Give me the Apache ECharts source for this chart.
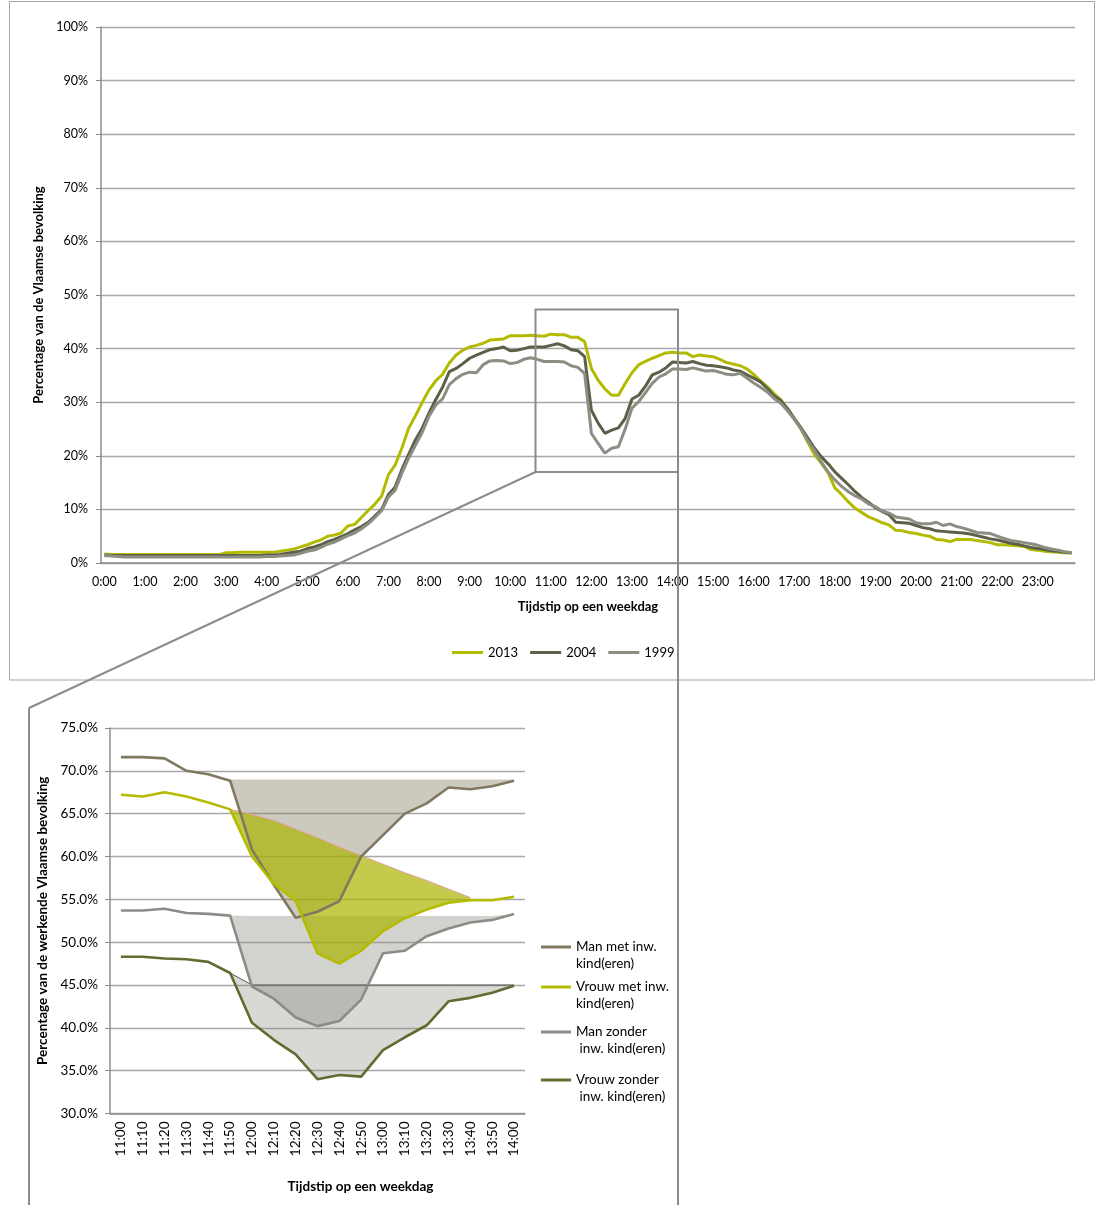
<!DOCTYPE html>
<html><head><meta charset="utf-8">
<script src="https://cdn.jsdelivr.net/npm/echarts/dist/echarts.min.js"></script>
<style>html,body{margin:0;padding:0;background:#fff}#c{width:1096px;height:1205px}</style>
</head><body><div id="c"></div>
<script>
// ---------- Top chart data (10-minute steps, 0:00 .. 23:50) ----------
var timeCategories = [];
for (var h = 0; h < 24; h++) { for (var m = 0; m < 60; m += 10) { timeCategories.push(h + ':' + (m === 0 ? '00' : m)); } }

var y2013 = [1.7,1.6,1.6,1.6,1.6,1.6, 1.6,1.6,1.6,1.6,1.6,1.6, 1.6,1.6,1.6,1.6,1.6,1.6, 1.9,1.9,2.0,2.0,2.0,2.0,
 2.0,2.0,2.2,2.4,2.6,3.0, 3.4,3.9,4.3,5.0,5.2,5.6, 6.9,7.2,8.5,9.8,11.0,12.5, 16.5,18.3,21.5,25.2,27.5,30.0,
 32.3,34.0,35.2,37.3,38.8,39.7, 40.3,40.6,41.0,41.6,41.7,41.8, 42.4,42.4,42.4,42.5,42.4,42.3, 42.7,42.6,42.6,42.1,42.1,41.3,
 36.3,34.1,32.5,31.3,31.3,33.5, 35.5,37.0,37.6,38.2,38.7,39.2, 39.3,39.2,39.2,38.5,38.8,38.6, 38.5,38.0,37.4,37.1,36.8,36.2,
 35.2,34.0,32.9,31.6,30.5,28.8, 26.9,25.0,22.5,20.2,18.6,16.8, 14.0,12.8,11.4,10.2,9.4,8.6, 8.1,7.5,7.1,6.1,6.0,5.7,
 5.5,5.2,5.0,4.4,4.3,4.0, 4.4,4.4,4.4,4.2,4.0,3.8, 3.4,3.4,3.3,3.2,3.1,2.5, 2.4,2.2,2.1,2.0,1.9,1.8];

var y2004 = [1.5,1.4,1.4,1.4,1.4,1.4, 1.4,1.4,1.4,1.4,1.4,1.4, 1.4,1.4,1.4,1.4,1.4,1.4, 1.4,1.4,1.4,1.4,1.4,1.4,
 1.5,1.5,1.6,1.8,2.0,2.2, 2.7,3.0,3.4,4.0,4.4,4.9, 5.5,6.2,6.8,7.6,8.8,10.0, 12.8,14.2,17.5,20.3,23.0,25.2,
 28.0,30.5,32.8,35.7,36.3,37.2, 38.2,38.8,39.3,39.8,40.0,40.3, 39.6,39.7,40.0,40.3,40.3,40.3, 40.6,40.9,40.5,39.8,39.6,38.5,
 28.5,26.1,24.2,24.8,25.2,27.0, 30.6,31.3,33.0,35.1,35.6,36.4, 37.5,37.4,37.3,37.6,37.2,36.9, 36.8,36.6,36.4,36.0,35.8,35.1,
 34.5,33.8,32.6,31.2,30.3,28.8, 27.0,25.2,23.3,21.4,19.8,18.5, 17.0,15.8,14.6,13.3,12.2,11.3, 10.3,9.6,9.0,7.6,7.5,7.4,
 7.0,6.6,6.4,6.0,5.9,5.8, 5.7,5.6,5.4,5.1,4.8,4.5, 4.3,4.0,3.7,3.5,3.2,2.9, 2.7,2.5,2.3,2.2,2.0,1.9];

var y1999 = [1.4,1.3,1.2,1.1,1.1,1.1, 1.1,1.1,1.1,1.1,1.1,1.1, 1.1,1.1,1.1,1.1,1.1,1.1, 1.1,1.1,1.1,1.1,1.1,1.1,
 1.2,1.2,1.3,1.4,1.5,1.8, 2.2,2.4,2.9,3.5,3.9,4.5, 5.1,5.6,6.4,7.3,8.5,9.8, 12.3,13.6,16.8,19.6,22.0,24.4,
 27.4,29.5,30.6,33.3,34.4,35.2, 35.6,35.5,37.0,37.7,37.8,37.7, 37.2,37.4,38.0,38.3,38.0,37.6, 37.6,37.6,37.5,36.8,36.5,35.4,
 24.2,22.3,20.5,21.4,21.7,25.0, 28.9,30.1,31.8,33.5,34.7,35.3, 36.2,36.2,36.1,36.4,36.1,35.8, 35.9,35.6,35.2,35.1,35.4,34.5,
 33.6,32.8,31.9,30.7,29.8,28.4, 26.8,25.0,22.8,21.0,18.8,17.0, 15.5,14.3,13.3,12.5,11.9,11.0, 10.5,9.7,9.3,8.6,8.4,8.2,
 7.5,7.3,7.3,7.6,7.0,7.3, 6.8,6.5,6.1,5.7,5.6,5.5, 5.0,4.6,4.2,4.0,3.8,3.6, 3.3,2.9,2.6,2.4,2.1,1.9];

// ---------- Inset chart data (11:00 .. 14:00) ----------
var insetCategories = ['11:00','11:10','11:20','11:30','11:40','11:50','12:00','12:10','12:20','12:30','12:40','12:50','13:00','13:10','13:20','13:30','13:40','13:50','14:00'];
var manMet      = [71.6,71.6,71.45,70.0,69.6,68.85,60.8,56.7,52.85,53.55,54.8,60.0,62.5,65.0,66.2,68.05,67.85,68.2,68.85];
var vrouwMet    = [67.2,67.0,67.5,67.0,66.3,65.5,60.0,56.8,54.8,48.7,47.5,49.0,51.3,52.8,53.8,54.6,54.9,54.9,55.3];
var manZonder   = [53.7,53.7,53.9,53.4,53.3,53.1,44.8,43.4,41.2,40.2,40.8,43.3,48.7,49.0,50.7,51.6,52.3,52.6,53.3];
var vrouwZonder = [48.3,48.3,48.1,48.0,47.7,46.4,40.6,38.6,36.9,34.0,34.5,34.3,37.4,38.9,40.3,43.1,43.5,44.1,44.9];
// upper edges of the shaded "dip" areas
var manMetTop      = ['-','-','-','-','-',69.0,69.0,69.0,69.0,69.0,69.0,69.0,69.0,69.0,69.0,69.0,69.0,69.0,69.0];
var vrouwMetTop    = ['-','-','-','-','-',65.5,64.9,64.2,63.2,62.2,61.1,60.1,59.1,58.1,57.2,56.2,55.2,'-','-'];
var manZonderTop   = ['-','-','-','-','-',53.05,53.05,53.05,53.05,53.05,53.05,53.05,53.05,53.05,53.05,53.05,53.05,53.05,53.05];
var vrouwZonderTop = ['-','-','-','-','-',46.4,45.0,45.0,45.0,45.0,45.0,45.0,45.0,45.0,45.0,45.0,45.0,45.0,45.0];

var FONT = 'Lato';
function base(line, top) { return top.map(function (t, i) { return t === '-' ? '-' : line[i]; }); }
function delta(line, top) { return top.map(function (t, i) { return t === '-' ? '-' : Math.max(0, +(t - line[i]).toFixed(3)); }); }

function fillPair(id, line, top, color, edge) {
  return [
    { name: id + 'b', type: 'line', xAxisIndex: 1, yAxisIndex: 1, stack: id, data: base(line, top),
      symbol: 'none', lineStyle: { width: 0, opacity: 0 }, silent: true, z: 1 },
    { name: id + 'f', type: 'line', xAxisIndex: 1, yAxisIndex: 1, stack: id, data: delta(line, top),
      symbol: 'none', lineStyle: edge || { width: 0, opacity: 0 }, areaStyle: { color: color, opacity: 1 }, silent: true, z: 1 }
  ];
}

var axisGrey = '#8c8c8c';
var gridGrey = '#a8a8a8';

var topLine = function (name, data, color) {
  return { name: name, type: 'line', xAxisIndex: 0, yAxisIndex: 0, data: data, symbol: 'none',
    lineStyle: { width: 3, color: color }, itemStyle: { color: color }, z: 3 };
};
var insetLine = function (name, data, color) {
  return { name: name, type: 'line', xAxisIndex: 1, yAxisIndex: 1, data: data, symbol: 'none',
    lineStyle: { width: 2.6, color: color }, itemStyle: { color: color }, z: 3 };
};

var series = [
  topLine('2013', y2013, '#b3bb00'),
  topLine('2004', y2004, '#5c6048'),
  topLine('1999', y1999, '#8d8d84')
]
.concat(fillPair('mm', manMet, manMetTop, 'rgba(127,119,96,0.40)'))
.concat(fillPair('mz', manZonder, manZonderTop, 'rgba(138,138,128,0.38)'))
.concat(fillPair('vz', vrouwZonder, vrouwZonderTop, 'rgba(138,138,128,0.33)', { width: 1, color: '#555' }))
.concat(fillPair('vm', vrouwMet, vrouwMetTop, 'rgba(170,180,0,0.70)', { width: 1, color: '#e8a0a0' }))
.concat([
  insetLine('Man met inw. kind(eren)', manMet, '#80785f'),
  insetLine('Vrouw met inw. kind(eren)', vrouwMet, '#b4bc00'),
  insetLine('Man zonder inw. kind(eren)', manZonder, '#8c8c86'),
  insetLine('Vrouw zonder inw. kind(eren)', vrouwZonder, '#5d6e30')
]);

var insetLegendText = {
  'Man met inw. kind(eren)': '\nMan met inw.\nkind(eren)',
  'Vrouw met inw. kind(eren)': '\nVrouw met inw.\nkind(eren)',
  'Man zonder inw. kind(eren)': '\nMan zonder\n inw. kind(eren)',
  'Vrouw zonder inw. kind(eren)': '\nVrouw zonder\n inw. kind(eren)'
};
function insetLegend(name, centerY) {
  return { data: [name], orient: 'vertical', left: 541, top: centerY - 24.75, padding: 0,
    icon: 'rect', itemWidth: 30, itemHeight: 3, selectedMode: false,
    formatter: function (n) { return insetLegendText[n]; },
    textStyle: { fontFamily: FONT, fontSize: 13.5, color: '#000', lineHeight: 16.5 } };
}

var chart = echarts.init(document.getElementById('c'), null, { renderer: 'canvas' });
chart.setOption({
  animation: false,
  backgroundColor: '#fff',
  grid: [
    { left: 101, top: 27, width: 974, height: 536 },
    { left: 110, top: 728, width: 415, height: 385.5 }
  ],
  xAxis: [
    { type: 'category', gridIndex: 0, data: timeCategories, boundaryGap: true,
      axisLine: { lineStyle: { color: axisGrey, width: 1.5 } },
      axisTick: { interval: 2, length: 5, lineStyle: { color: axisGrey } },
      axisLabel: { interval: 5, fontFamily: FONT, fontSize: 12.5, color: '#000', margin: 12 },
      splitLine: { show: false },
      name: 'Tijdstip op een weekdag', nameLocation: 'middle', nameGap: 37,
      nameTextStyle: { fontFamily: FONT, fontSize: 13, fontWeight: 'bold', color: '#000' } },
    { type: 'category', gridIndex: 1, data: insetCategories, boundaryGap: true,
      axisLine: { lineStyle: { color: axisGrey, width: 1.5 } },
      axisTick: { interval: 0, length: 5, lineStyle: { color: axisGrey } },
      axisLabel: { interval: 0, rotate: 90, fontFamily: FONT, fontSize: 13.5, color: '#000', margin: 8 },
      name: 'Tijdstip op een weekdag', nameLocation: 'middle', nameGap: 66,
      nameTextStyle: { fontFamily: FONT, fontSize: 13.5, fontWeight: 'bold', color: '#000', padding: [0, 0, 0, 86] } }
  ],
  yAxis: [
    { type: 'value', gridIndex: 0, min: 0, max: 100, interval: 10,
      axisLine: { show: true, lineStyle: { color: axisGrey, width: 1.5 } },
      axisTick: { show: true, length: 5, lineStyle: { color: axisGrey } },
      axisLabel: { formatter: '{value}%', fontFamily: FONT, fontSize: 12.5, color: '#000', margin: 13 },
      splitLine: { lineStyle: { color: gridGrey, width: 1.3 } },
      name: 'Percentage van de Vlaamse bevolking', nameLocation: 'middle', nameGap: 50,
      nameTextStyle: { fontFamily: FONT, fontSize: 13, fontWeight: 'bold', color: '#000' } },
    { type: 'value', gridIndex: 1, min: 30, max: 75, interval: 5,
      axisLine: { show: true, lineStyle: { color: axisGrey, width: 1.5 } },
      axisTick: { show: true, length: 5, lineStyle: { color: axisGrey } },
      axisLabel: { formatter: function (v) { return v.toFixed(1) + '%'; }, fontFamily: FONT, fontSize: 13.5, color: '#000', margin: 12 },
      splitLine: { lineStyle: { color: gridGrey, width: 1.3 } },
      name: 'Percentage van de werkende Vlaamse bevolking', nameLocation: 'middle', nameGap: 60,
      nameTextStyle: { fontFamily: FONT, fontSize: 13.5, fontWeight: 'bold', color: '#000' } }
  ],
  legend: [
    { data: ['2013', '2004', '1999'], left: 452, top: 646, padding: 0, icon: 'rect', itemWidth: 31, itemHeight: 3, itemGap: 12,
      selectedMode: false, textStyle: { fontFamily: FONT, fontSize: 13, color: '#000' } },
    insetLegend('Man met inw. kind(eren)', 947),
    insetLegend('Vrouw met inw. kind(eren)', 987),
    insetLegend('Man zonder inw. kind(eren)', 1032),
    insetLegend('Vrouw zonder inw. kind(eren)', 1080)
  ],
  graphic: [
    { type: 'rect', silent: true, z: 100, shape: { x: 9.5, y: 1.5, width: 1085, height: 678.5 },
      style: { fill: 'none', stroke: '#a6a6a6', lineWidth: 1 } },
    { type: 'rect', silent: true, z: 100, shape: { x: 535.5, y: 309.5, width: 142.5, height: 162.5 },
      style: { fill: 'none', stroke: '#8c8c8c', lineWidth: 2 } },
    { type: 'line', silent: true, z: 100, shape: { x1: 535.5, y1: 472, x2: 29, y2: 708 },
      style: { stroke: '#8c8c8c', lineWidth: 2 } },
    { type: 'line', silent: true, z: 100, shape: { x1: 29, y1: 708, x2: 29, y2: 1205 },
      style: { stroke: '#8c8c8c', lineWidth: 2 } },
    { type: 'line', silent: true, z: 100, shape: { x1: 678, y1: 472, x2: 678, y2: 1205 },
      style: { stroke: '#8c8c8c', lineWidth: 2 } }
  ],
  series: series
});
</script></body></html>
